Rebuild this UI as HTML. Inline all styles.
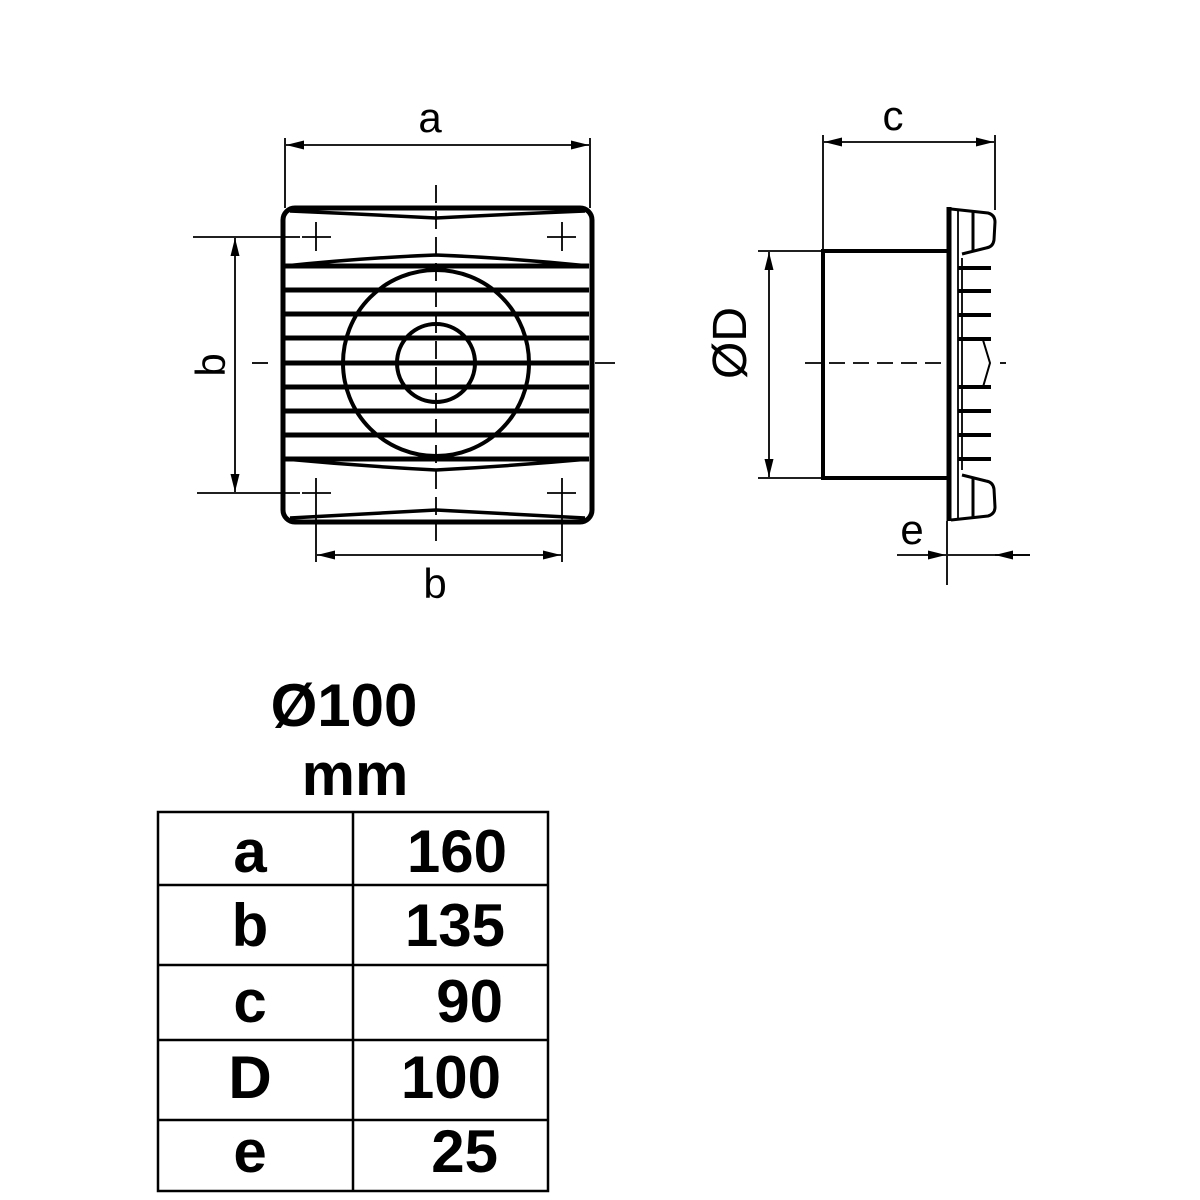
<!DOCTYPE html>
<html><head><style>body{margin:0;background:#fff}svg{display:block}</style></head><body>
<svg width="1200" height="1200" viewBox="0 0 1200 1200" xmlns="http://www.w3.org/2000/svg" font-family="Liberation Sans, sans-serif">
<defs>
<marker id="ar" viewBox="0 0 10 10" refX="10" refY="5" markerWidth="18" markerHeight="18" markerUnits="userSpaceOnUse" orient="auto"><path d="M0,2.5 L10,5 L0,7.5 Z" fill="#000"/></marker>
</defs>
<g stroke="#000" fill="none">
<rect x="283" y="208" width="309" height="314" rx="12" stroke-width="5"/>
<g stroke-width="5">
<line x1="285" y1="290" x2="589" y2="290"/><line x1="285" y1="314" x2="589" y2="314"/>
<line x1="285" y1="338" x2="589" y2="338"/><line x1="285" y1="363" x2="589" y2="363"/>
<line x1="285" y1="387" x2="589" y2="387"/><line x1="285" y1="411" x2="589" y2="411"/>
<line x1="285" y1="435" x2="589" y2="435"/>
</g>
<g stroke-width="3.5">
<path d="M285,266 Q360,258 436,255 Q512,258 589,266"/>
<path d="M285,266 L589,266" stroke-width="5"/>
<path d="M285,459 L589,459" stroke-width="5"/>
<path d="M285,459 Q360,466 436,470 Q512,466 589,459"/>
<path d="M290,211 Q360,214 436,218 Q512,214 585,211"/>
<path d="M290,518 Q360,514 436,510 Q512,514 585,518"/>
</g>
<circle cx="436" cy="363" r="93" stroke-width="4"/>
<circle cx="436" cy="363" r="39" stroke-width="4"/>
<g stroke-width="1.8">
<line x1="436" y1="185" x2="436" y2="548" stroke-dasharray="18,8"/>
<line x1="252" y1="363" x2="268" y2="363"/><line x1="595" y1="363" x2="615" y2="363"/>
<line x1="316" y1="222" x2="316" y2="251"/><line x1="302" y1="237" x2="331" y2="237"/>
<line x1="562" y1="222" x2="562" y2="251"/><line x1="547" y1="237" x2="576" y2="237"/>
<line x1="316" y1="478" x2="316" y2="562"/><line x1="302" y1="493" x2="331" y2="493"/>
<line x1="562" y1="478" x2="562" y2="562"/><line x1="547" y1="493" x2="576" y2="493"/>
<line x1="193" y1="237" x2="300" y2="237"/><line x1="197" y1="493" x2="300" y2="493"/>
<line x1="235" y1="300" x2="235" y2="238" marker-end="url(#ar)"/>
<line x1="235" y1="430" x2="235" y2="492" marker-end="url(#ar)"/>
<line x1="235" y1="300" x2="235" y2="430"/>
<line x1="285" y1="138" x2="285" y2="208"/><line x1="590" y1="138" x2="590" y2="208"/>
<line x1="437" y1="145" x2="286" y2="145" marker-end="url(#ar)"/>
<line x1="437" y1="145" x2="589" y2="145" marker-end="url(#ar)"/>
<line x1="437" y1="555" x2="317" y2="555" marker-end="url(#ar)"/>
<line x1="437" y1="555" x2="561" y2="555" marker-end="url(#ar)"/>
</g>
<path d="M948,251 L823,251 L823,478 L948,478" stroke-width="4"/>
<line x1="949" y1="207" x2="949" y2="521" stroke-width="5"/>
<line x1="958" y1="210" x2="958" y2="518" stroke-width="1.8"/>
<g stroke-width="3">
<path d="M951,209 L988,213 Q995,215 995,222 L994,240 Q993,247 986,248 L962,254"/>
<path d="M951,520 L988,516 Q995,514 995,507 L994,489 Q993,482 986,481 L962,475"/>
<line x1="973" y1="211" x2="973" y2="250"/><line x1="973" y1="478" x2="973" y2="517"/>
</g>
<g stroke-width="4">
<line x1="958" y1="268" x2="991" y2="268"/><line x1="958" y1="291" x2="991" y2="291"/>
<line x1="958" y1="315" x2="991" y2="315"/><line x1="958" y1="339" x2="991" y2="339"/>
<line x1="958" y1="387" x2="991" y2="387"/><line x1="958" y1="411" x2="991" y2="411"/>
<line x1="958" y1="435" x2="991" y2="435"/><line x1="958" y1="459" x2="991" y2="459"/>
</g>
<line x1="962" y1="258" x2="962" y2="470" stroke-width="1.8"/>
<path d="M983,340 L990,363 L983,387" stroke-width="2"/>
<g stroke-width="1.8">
<line x1="805" y1="363" x2="945" y2="363" stroke-dasharray="16,8"/>
<line x1="1000" y1="363" x2="1006" y2="363"/>
<line x1="758" y1="251" x2="823" y2="251"/><line x1="758" y1="478" x2="823" y2="478"/>
<line x1="769" y1="365" x2="769" y2="252" marker-end="url(#ar)"/>
<line x1="769" y1="365" x2="769" y2="477" marker-end="url(#ar)"/>
<line x1="823" y1="135" x2="823" y2="251"/><line x1="995" y1="135" x2="995" y2="210"/>
<line x1="910" y1="142" x2="824" y2="142" marker-end="url(#ar)"/>
<line x1="910" y1="142" x2="994" y2="142" marker-end="url(#ar)"/>
<line x1="947" y1="521" x2="947" y2="585"/>
<line x1="897" y1="555" x2="946" y2="555" marker-end="url(#ar)"/>
<line x1="1030" y1="555" x2="948" y2="555"/>
<line x1="1030" y1="555" x2="995" y2="555" marker-end="url(#ar)"/>
</g>
<g stroke-width="2.5">
<rect x="158" y="812" width="390" height="379"/>
<line x1="353" y1="812" x2="353" y2="1191"/>
<line x1="158" y1="885" x2="548" y2="885"/><line x1="158" y1="965" x2="548" y2="965"/>
<line x1="158" y1="1040" x2="548" y2="1040"/><line x1="158" y1="1120" x2="548" y2="1120"/>
</g>
</g>
<g fill="#000" font-size="42">
<text x="430" y="132" text-anchor="middle">a</text>
<text x="893" y="130" text-anchor="middle">c</text>
<text x="435" y="598" text-anchor="middle">b</text>
<text x="912" y="544" text-anchor="middle">e</text>
<text transform="translate(225,365) rotate(-90)" text-anchor="middle">b</text>
<text transform="translate(746,343) rotate(-90)" text-anchor="middle" font-size="48">ØD</text>
</g>
<g fill="#000" font-weight="bold" font-size="60">
<text x="344" y="726" text-anchor="middle">Ø100</text>
<text x="355" y="795" text-anchor="middle">mm</text>
<g text-anchor="middle"><text x="250" y="872">a</text><text x="250" y="946">b</text><text x="250" y="1022">c</text><text x="250" y="1098">D</text><text x="250" y="1172">e</text></g>
<g text-anchor="end"><text x="507" y="872">160</text><text x="505" y="946">135</text><text x="503" y="1022">90</text><text x="501" y="1098">100</text><text x="498" y="1172">25</text></g>
</g>
</svg>
</body></html>
